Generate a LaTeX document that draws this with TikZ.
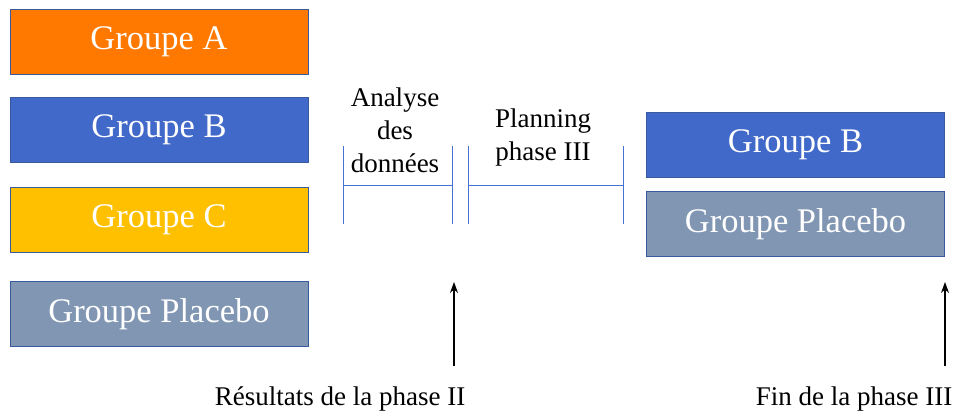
\documentclass[tikz,border=0pt]{standalone}
\usepackage{fontspec}
\setmainfont{Liberation Serif}
\usetikzlibrary{arrows.meta}
\definecolor{corange}{HTML}{FF7800}
\definecolor{cblue}{HTML}{4169C9}
\definecolor{cyellow}{HTML}{FFC000}
\definecolor{cgray}{HTML}{8096B3}
\definecolor{cedge}{HTML}{3A5A9E}
\definecolor{cbracket}{HTML}{4472D4}
\tikzset{
  grp/.style={draw=cedge, line width=0.8pt, minimum width=298pt, minimum height=65pt, inner sep=0pt,
    text=white, font=\fontsize{34.5pt}{36pt}\selectfont},
  lbl/.style={font=\fontsize{27pt}{33pt}\selectfont, align=center, inner sep=0pt, text=black},
  brk/.style={draw=cbracket, line width=1pt},
  arr/.style={draw=black, line width=1.2pt, -{Stealth[length=11pt,width=8pt]}}
}
\begin{document}
\begin{tikzpicture}[x=1pt,y=-1pt]
\useasboundingbox (0,0) rectangle (958,415);
% left groups
\node[grp, fill=corange] (ga) at (159,41.5) {Groupe A};
\node[grp, fill=cblue] (gb) at (159,130) {Groupe B};
\node[grp, fill=cyellow] (gc) at (159,219.5) {Groupe C};
\node[grp, fill=cgray] (gp) at (159,314) {Groupe Placebo};
% right groups
\node[grp, fill=cblue] (rb) at (795.5,145) {Groupe B};
\node[grp, fill=cgray] (rp) at (795.5,224) {Groupe Placebo};
% brackets
\coordinate (b1l) at (343,185);
\coordinate (b1r) at (452,185);
\coordinate (b2l) at (468,185);
\coordinate (b2r) at (623,185);
\draw[brk] (343,146) -- (343,224);
\draw[brk] (452,146) -- (452,224);
\draw[brk] (468,146) -- (468,224);
\draw[brk] (623,146) -- (623,224);
\draw[brk] (b1l) -- (b1r);
\draw[brk] (b2l) -- (b2r);
\node[lbl] (ana) at (395,130) {Analyse\\des\\données};
\node[lbl] (plan) at (543,138) {Planning\\phase III};
% arrows
\coordinate (a1s) at (454,366);
\coordinate (a1e) at (454,282);
\coordinate (a2s) at (945,366);
\coordinate (a2e) at (945,282);
\draw[arr] (a1s) -- (a1e);
\draw[arr] (a2s) -- (a2e);
\node[lbl] (res) at (340,399) {Résultats de la phase II};
\node[lbl] (fin) at (854,399) {Fin de la phase III};
\end{tikzpicture}
\end{document}
